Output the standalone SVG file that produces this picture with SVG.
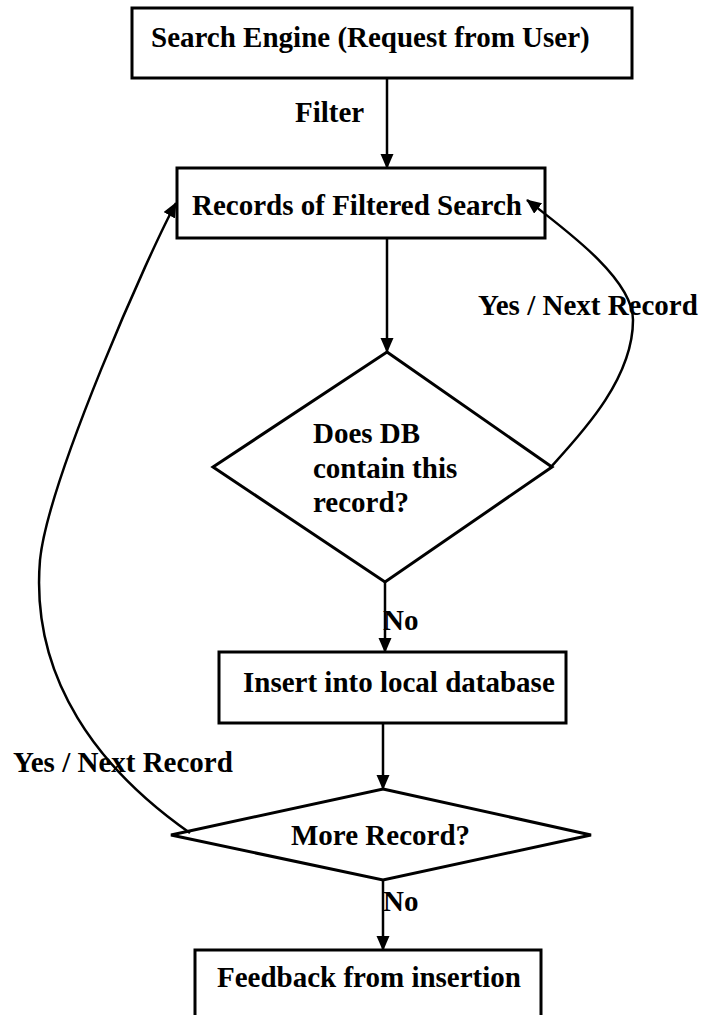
<svg xmlns="http://www.w3.org/2000/svg" width="708" height="1015" viewBox="0 0 708 1015">
<defs>
<style>
.box{fill:#fff;stroke:#000;stroke-width:3}
.dia{fill:#fff;stroke:#000;stroke-width:3;stroke-linejoin:miter}
.t{font-family:"Liberation Serif","Times New Roman",serif;font-weight:bold;font-size:29px;fill:#000}
.c{fill:none;stroke:#000;stroke-width:2.5}
</style>
<marker id="ah" markerUnits="userSpaceOnUse" markerWidth="16" markerHeight="14" refX="14" refY="6.5" orient="auto">
<path d="M0,0 L15,6.5 L0,13 Z" fill="#000"/>
</marker>
</defs>
<rect width="708" height="1015" fill="#fff"/>
<g id="n1">
<rect class="box" x="132" y="8" width="500" height="70"/>
<text class="t" x="151" y="47">Search Engine (Request from User)</text>
</g>
<g id="n2">
<rect class="box" x="177" y="168" width="368" height="70"/>
<text class="t" x="192" y="215">Records of Filtered Search</text>
</g>
<g id="n3">
<polygon class="dia" points="387,352 552,467 385,582 213,467"/>
<text class="t" x="313" y="443">Does DB</text>
<text class="t" x="313" y="478">contain this</text>
<text class="t" x="313" y="512">record?</text>
</g>
<g id="n4">
<rect class="box" x="219" y="652" width="347" height="71"/>
<text class="t" x="243" y="692">Insert into local database</text>
</g>
<g id="n5">
<polygon class="dia" points="383,789 591,835 383,880 171,835"/>
<text class="t" x="291" y="845">More Record?</text>
</g>
<g id="n6">
<rect class="box" x="195" y="950" width="346" height="90"/>
<text class="t" x="217" y="987">Feedback from insertion</text>
</g>
<g id="connectors">
<line class="c" x1="387" y1="78" x2="387" y2="168" marker-end="url(#ah)"/>
<text class="t" x="295" y="122">Filter</text>
<line class="c" x1="387" y1="238" x2="387" y2="352" marker-end="url(#ah)"/>
<path class="c" d="M550,468 C580,435 633,380 633,320 C633,280 570,233 527,200" marker-end="url(#ah)"/>
<text class="t" x="478" y="315">Yes / Next Record</text>
<line class="c" x1="385" y1="582" x2="385" y2="652" marker-end="url(#ah)"/>
<text class="t" x="383" y="630">No</text>
<line class="c" x1="383" y1="723" x2="383" y2="789" marker-end="url(#ah)"/>
<path class="c" d="M190,833 C100,770 30,680 40,560 C48,480 150,250 176,203" marker-end="url(#ah)"/>
<text class="t" x="13" y="772">Yes / Next Record</text>
<line class="c" x1="383" y1="880" x2="383" y2="950" marker-end="url(#ah)"/>
<text class="t" x="383" y="911">No</text>
</g>
</svg>
